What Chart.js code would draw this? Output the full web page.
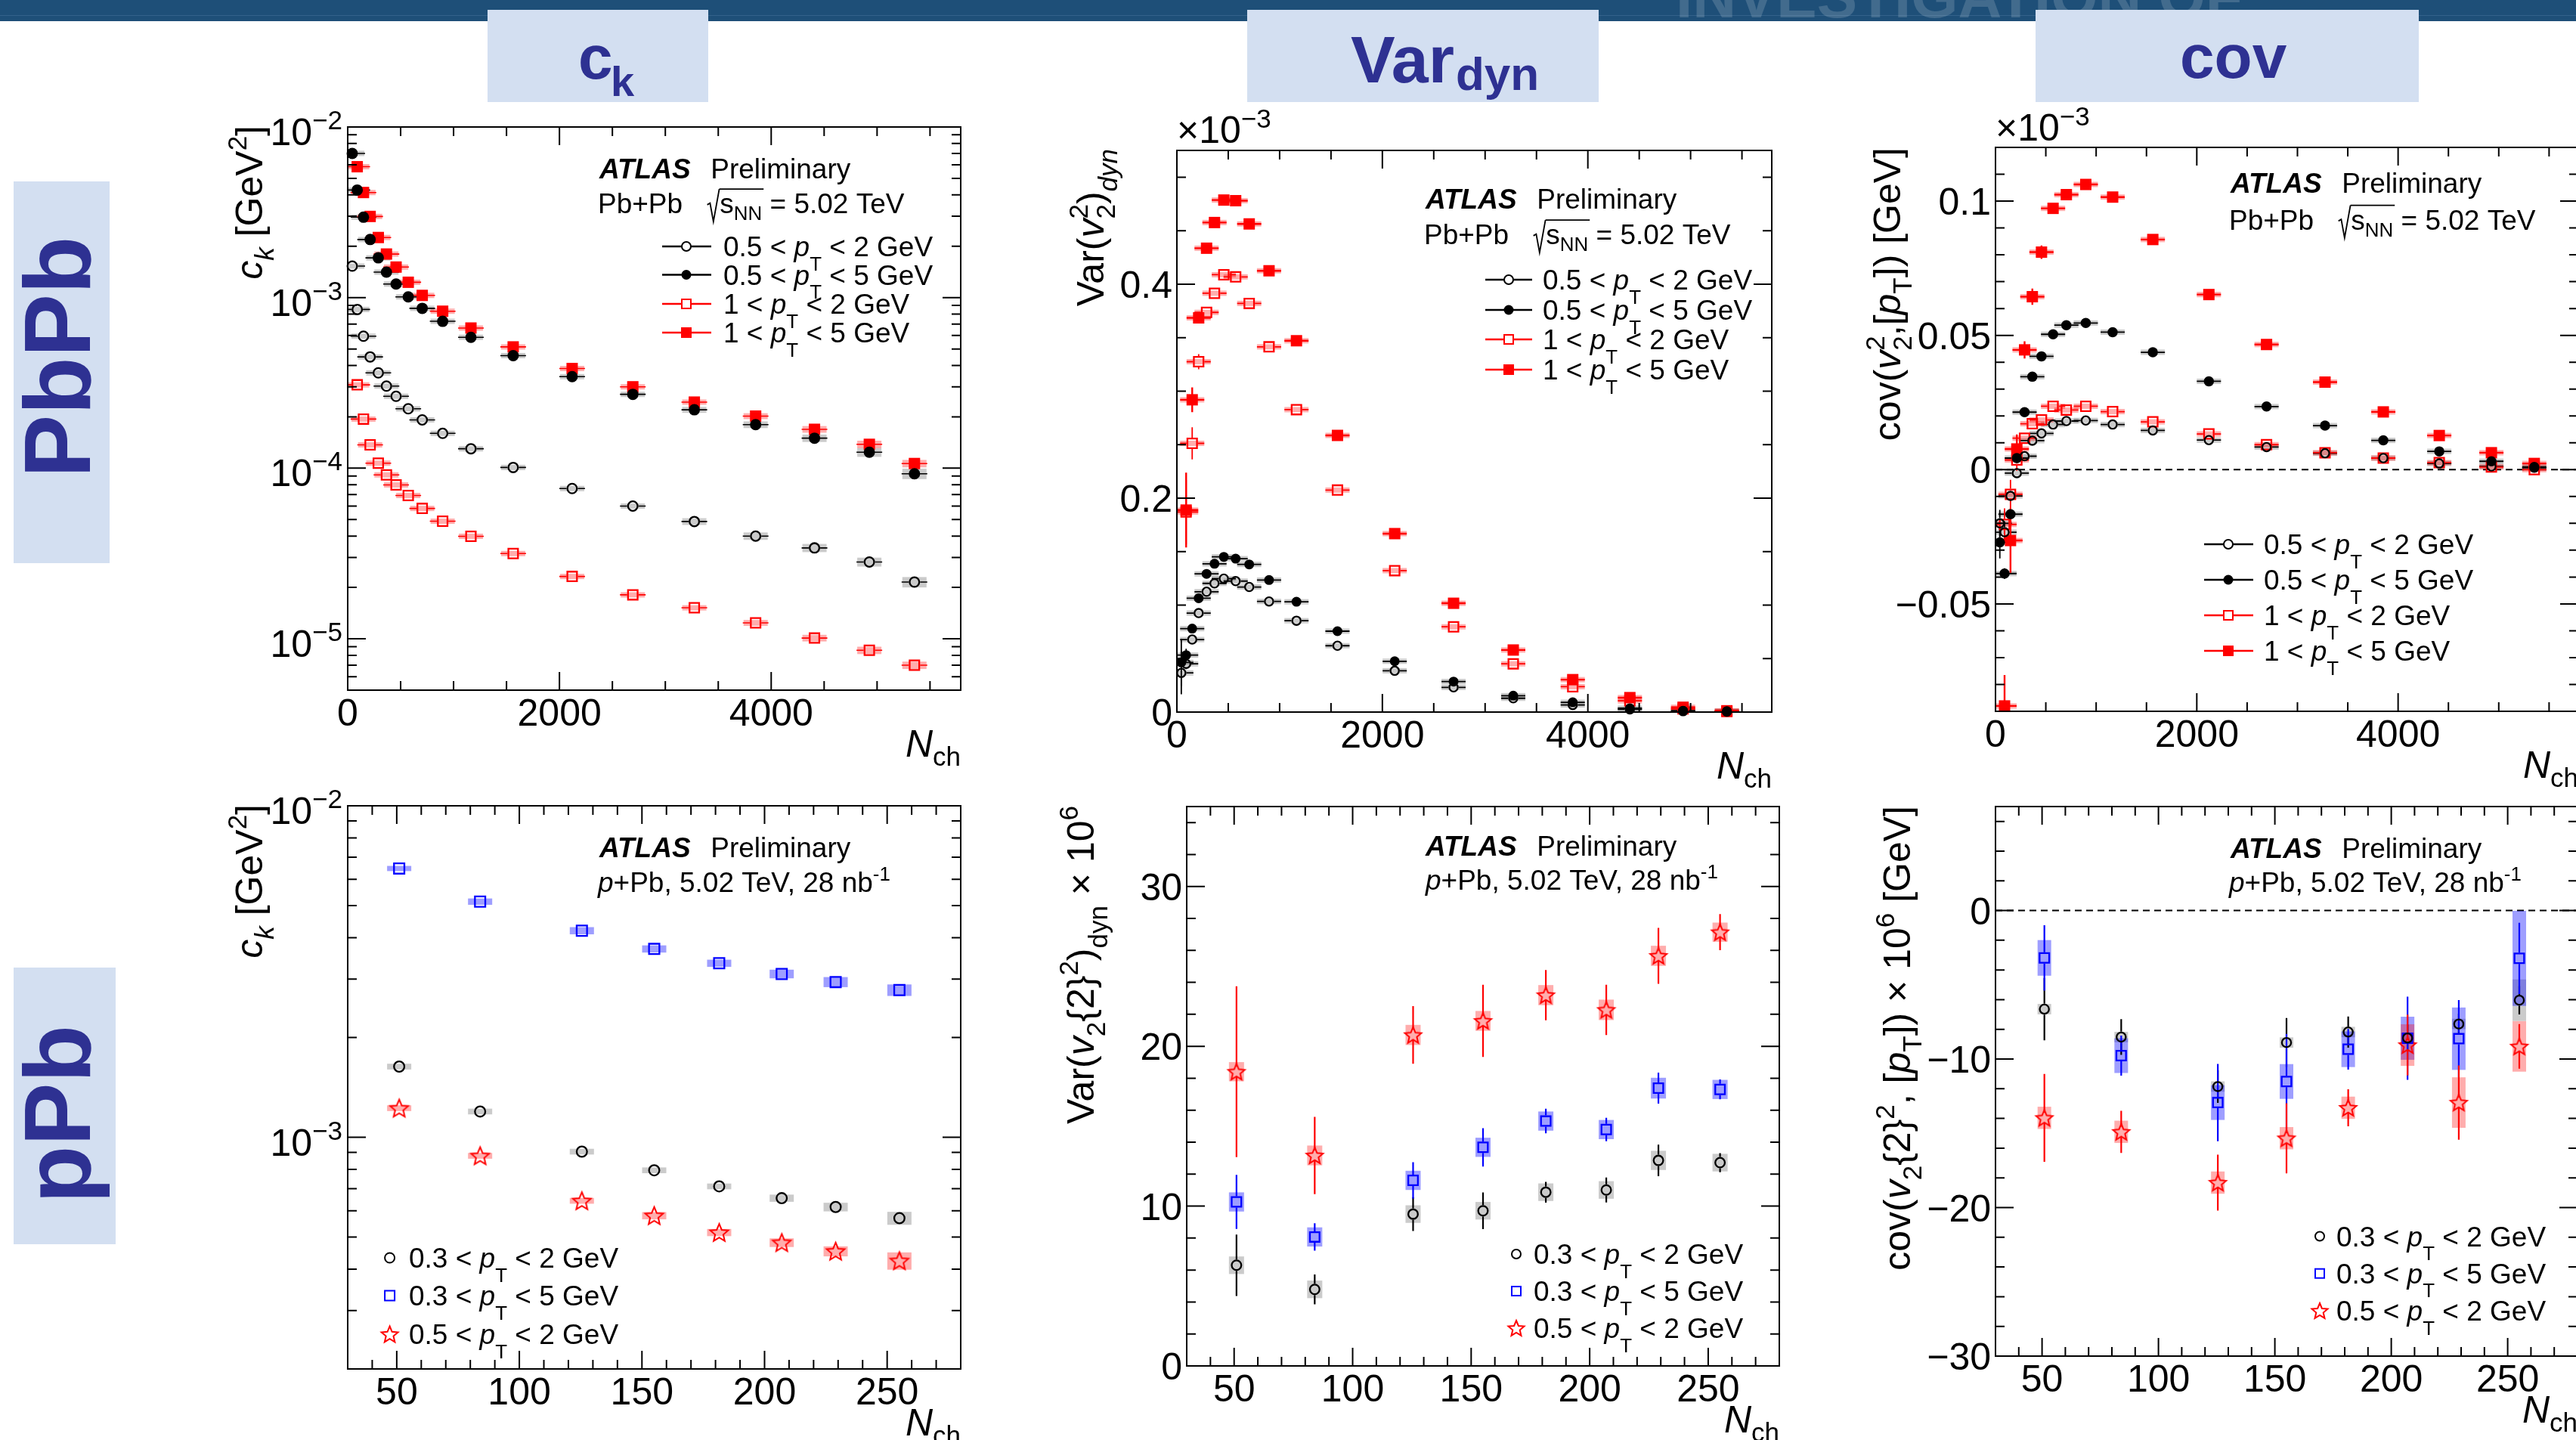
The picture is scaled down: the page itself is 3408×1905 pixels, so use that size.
<!DOCTYPE html>
<html lang="en"><head><meta charset="utf-8"><title>ATLAS Preliminary: c_k, Var_dyn, cov</title>
<script src="https://cdn.jsdelivr.net/npm/chart.js@4.4.1/dist/chart.umd.min.js"></script>
<style>
html,body{margin:0;padding:0;background:#fff;width:3408px;height:1905px;overflow:hidden;position:relative;}
#band{position:absolute;left:0;top:0;width:3408px;height:28px;background:#1e4f78;overflow:hidden;}
#bandline{position:absolute;left:0;top:20px;width:3408px;height:1px;background:#33628b;}
#bandtxt{position:absolute;left:2217px;top:-44px;font-family:"Liberation Sans",Arial,sans-serif;font-weight:bold;font-size:80px;line-height:1;color:rgba(255,255,255,0.16);white-space:nowrap;}
.hbox{position:absolute;top:13px;height:122px;background:#d3dff1;}
.hs{position:absolute;font-family:"Liberation Sans",Arial,sans-serif;font-weight:bold;color:#2e3192;line-height:1;white-space:nowrap;}
.side{position:absolute;background:#d3dff1;}
.rot{position:absolute;transform-origin:0 0;transform:rotate(-90deg);font-family:"Liberation Sans",Arial,sans-serif;font-weight:bold;color:#2e3192;font-size:125px;line-height:1;white-space:nowrap;}
canvas{position:absolute;}
</style></head>
<body>
<div id="band"><div id="bandline"></div><div id="bandtxt">INVESTIGATION OF</div></div>
<div class="hbox" style="left:645px;width:292px"></div>
<div class="hbox" style="left:1650px;width:465px"></div>
<div class="hbox" style="left:2693px;width:507px"></div>
<span class="hs" style="left:765px;top:34.6px;font-size:82px">c</span>
<span class="hs" style="left:808px;top:79.6px;font-size:56px">k</span>
<span class="hs" style="left:1787px;top:34.5px;font-size:88px">Var</span>
<span class="hs" style="left:1926px;top:66.5px;font-size:62px">dyn</span>
<span class="hs" style="left:2884px;top:33.6px;font-size:82px">cov</span>
<div class="side" style="left:18px;top:240px;width:127px;height:505px"></div>
<div class="rot" style="left:13px;top:632px">PbPb</div>
<div class="side" style="left:18px;top:1280px;width:135px;height:366px"></div>
<div class="rot" style="left:13px;top:1592px">pPb</div>
<script>
// ======================= DATA =======================
// Pb+Pb multiplicity bins (mean N_ch); the 1<pT series start at the second bin
const nchPbPb = [43, 90, 149, 212, 289, 366, 457, 572, 704, 897, 1164, 1563, 2120, 2693, 3274, 3853, 4409, 4927, 5353];
const nchPPb  = [51, 84, 125.5, 155, 181.5, 207, 229, 255];

const xTickPbPb = [0, 2000, 4000];
const xTickPPb  = [50, 100, 150, 200, 250];
const yExpCkPbPb = [-2, -3, -4, -5];
const yExpCkPPb  = [-2, -3];
const yTickVarPbPb = [0, 0.2, 0.4];
const yTickCovPbPb = [-0.05, 0, 0.05, 0.1];
const yTickVarPPb  = [0, 10, 20, 30];
const yTickCovPPb  = [-30, -20, -10, 0];

const legPbPb = [['0.5 < ', ' < 2 GeV'], ['0.5 < ', ' < 5 GeV'], ['1 < ', ' < 2 GeV'], ['1 < ', ' < 5 GeV']];
const legPPb  = [['0.3 < ', ' < 2 GeV'], ['0.3 < ', ' < 5 GeV'], ['0.5 < ', ' < 2 GeV']];

// c_k, Pb+Pb [GeV^2]
const ckPbPb_05_2 = [1.53e-3, 8.52e-4, 5.94e-4, 4.49e-4, 3.62e-4, 3.03e-4, 2.64e-4, 2.23e-4, 1.92e-4, 1.60e-4, 1.30e-4, 1.01e-4, 7.6e-5, 6.0e-5, 4.87e-5, 4.0e-5, 3.41e-5, 2.82e-5, 2.15e-5];
const ckPbPb_05_5 = [7.0e-3, 4.27e-3, 2.96e-3, 2.19e-3, 1.71e-3, 1.41e-3, 1.20e-3, 1.01e-3, 8.65e-4, 7.26e-4, 5.85e-4, 4.57e-4, 3.44e-4, 2.71e-4, 2.20e-4, 1.80e-4, 1.50e-4, 1.24e-4, 9.28e-5];
const ckPbPb_1_2  = [3.08e-4, 1.94e-4, 1.37e-4, 1.07e-4, 9.14e-5, 7.98e-5, 6.92e-5, 5.81e-5, 4.89e-5, 3.99e-5, 3.16e-5, 2.32e-5, 1.81e-5, 1.52e-5, 1.24e-5, 1.01e-5, 8.56e-6, 7.0e-6];
const ckPbPb_1_5  = [5.85e-3, 4.13e-3, 2.99e-3, 2.25e-3, 1.80e-3, 1.51e-3, 1.23e-3, 1.03e-3, 8.32e-4, 6.63e-4, 5.14e-4, 3.84e-4, 3.0e-4, 2.44e-4, 2.02e-4, 1.69e-4, 1.38e-4, 1.065e-4];
// relative systematic uncertainties
const ckPbPbSys_05_2 = [0.02, 0.02, 0.02, 0.02, 0.02, 0.02, 0.02, 0.02, 0.02, 0.02, 0.02, 0.025, 0.03, 0.035, 0.045, 0.05, 0.055, 0.06, 0.07];
const ckPbPbSys_05_5 = [0.02, 0.02, 0.02, 0.02, 0.02, 0.02, 0.02, 0.02, 0.02, 0.02, 0.02, 0.025, 0.03, 0.035, 0.04, 0.045, 0.05, 0.06, 0.07];
const ckPbPbSys_1_2  = [0.02, 0.02, 0.02, 0.02, 0.02, 0.02, 0.02, 0.02, 0.02, 0.02, 0.025, 0.03, 0.03, 0.035, 0.04, 0.045, 0.05, 0.05];
const ckPbPbSys_1_5  = [0.02, 0.02, 0.02, 0.02, 0.02, 0.02, 0.02, 0.02, 0.02, 0.02, 0.025, 0.03, 0.03, 0.035, 0.04, 0.045, 0.05, 0.05];

// Var(v2^2)_dyn, Pb+Pb (x 1e-3)
const vdPbPb_05_2 = [0.0366, 0.0451, 0.0678, 0.0925, 0.1125, 0.1203, 0.1247, 0.1224, 0.1169, 0.1034, 0.0854, 0.062, 0.0386, 0.0231, 0.0129, 0.0066, 0.0025, 0.0008, 0.0004];
const vdPbPb_05_5 = [0.0464, 0.0532, 0.078, 0.1064, 0.1292, 0.1386, 0.1451, 0.1434, 0.138, 0.1234, 0.1031, 0.0756, 0.0475, 0.0285, 0.0153, 0.0091, 0.0036, 0.0013, 0.0008];
const vdPbPb_1_2  = [0.187, 0.2512, 0.3275, 0.3736, 0.3915, 0.4088, 0.4068, 0.382, 0.3414, 0.2827, 0.2075, 0.1322, 0.0797, 0.0451, 0.0237, 0.0105, 0.003, 0.0006];
const vdPbPb_1_5  = [0.1888, 0.2919, 0.3685, 0.4336, 0.4576, 0.4786, 0.478, 0.4563, 0.4125, 0.3471, 0.2586, 0.1668, 0.1017, 0.058, 0.0303, 0.0135, 0.0045, 0.0012];
const vdPbPbErr_05_2 = [0.02, 0.005, 0.003, 0.002, 0.002, 0.001, 0.001, 0.001, 0.001, 0.001, 0.001, 0.001, 0.001, 0.001, 0.001, 0.001, 0.001, 0.001, 0.001];
const vdPbPbErr_05_5 = [0.022, 0.006, 0.003, 0.002, 0.002, 0.001, 0.001, 0.001, 0.001, 0.001, 0.001, 0.001, 0.001, 0.001, 0.001, 0.001, 0.001, 0.001, 0.001];
const vdPbPbErr_1_2  = [0.03, 0.015, 0.007, 0.004, 0.003, 0.003, 0.003, 0.002, 0.002, 0.002, 0.002, 0.002, 0.002, 0.001, 0.001, 0.001, 0.001, 0.001];
const vdPbPbErr_1_5  = [0.035, 0.0115, 0.005, 0.004, 0.003, 0.003, 0.003, 0.002, 0.002, 0.002, 0.002, 0.002, 0.002, 0.001, 0.001, 0.001, 0.001, 0.001];

// cov(v2^2,[pT]), Pb+Pb (x 1e-3 GeV)
const cvPbPb_05_2 = [-0.02, -0.0233, -0.0098, -0.0013, 0.005, 0.0108, 0.0135, 0.0168, 0.0181, 0.0183, 0.0168, 0.0146, 0.011, 0.0084, 0.0061, 0.0043, 0.0023, 0.0012, 0.0007];
const cvPbPb_05_5 = [-0.0271, -0.0387, -0.0166, 0.0043, 0.0214, 0.0346, 0.0422, 0.0504, 0.0538, 0.0546, 0.0512, 0.0437, 0.0329, 0.0235, 0.0164, 0.0109, 0.0068, 0.0031, 0.001];
const cvPbPb_1_2  = [-0.0204, -0.0092, 0.0036, 0.0117, 0.0171, 0.0185, 0.0236, 0.0222, 0.0236, 0.0216, 0.0178, 0.0133, 0.0093, 0.0063, 0.0043, 0.0026, 0.001, 0.0];
const cvPbPb_1_5  = [-0.088, -0.0264, 0.0077, 0.0446, 0.0644, 0.081, 0.0973, 0.1024, 0.1062, 0.1015, 0.0857, 0.0652, 0.0466, 0.0326, 0.0215, 0.0127, 0.0063, 0.0023];
const cvPbPbErr_05_2 = [0.005, 0.004, 0.002, 0.0015, 0.001, 0.001, 0.001, 0.0005, 0.0005, 0.0005, 0.0005, 0.0005, 0.0005, 0.0005, 0.0005, 0.0005, 0.0005, 0.0005, 0.0005];
const cvPbPbErr_05_5 = [0.006, 0.002, 0.002, 0.0015, 0.001, 0.001, 0.001, 0.0005, 0.0005, 0.0005, 0.0005, 0.0005, 0.0005, 0.0005, 0.0005, 0.0005, 0.0005, 0.0005, 0.0005];
const cvPbPbErr_1_2  = [0.006, 0.0054, 0.004, 0.002, 0.0015, 0.001, 0.001, 0.001, 0.001, 0.001, 0.001, 0.001, 0.001, 0.001, 0.001, 0.001, 0.001, 0.001];
const cvPbPbErr_1_5  = [0.0115, 0.012, 0.0054, 0.0032, 0.003, 0.0025, 0.0015, 0.001, 0.001, 0.001, 0.001, 0.001, 0.001, 0.001, 0.001, 0.001, 0.001, 0.001];

// c_k, p+Pb [GeV^2]
const ckPPb_03_2 = [1.634e-3, 1.196e-3, 9.05e-4, 7.95e-4, 7.11e-4, 6.55e-4, 6.16e-4, 5.70e-4];
const ckPPb_03_5 = [6.47e-3, 5.14e-3, 4.20e-3, 3.70e-3, 3.35e-3, 3.11e-3, 2.94e-3, 2.78e-3];
const ckPPb_05_2 = [1.224e-3, 8.79e-4, 6.43e-4, 5.80e-4, 5.16e-4, 4.81e-4, 4.53e-4, 4.24e-4];
const ckPPbSys_03_2 = [0.02, 0.02, 0.02, 0.02, 0.02, 0.025, 0.03, 0.045];
const ckPPbSys_03_5 = [0.018, 0.022, 0.025, 0.025, 0.025, 0.03, 0.035, 0.04];
const ckPPbSys_05_2 = [0.02, 0.02, 0.02, 0.025, 0.025, 0.03, 0.035, 0.06];

// Var(v2{2}^2)_dyn x 1e6, p+Pb
const vdPPb_03_2 = [6.30, 4.79, 9.50, 9.71, 10.87, 11.01, 12.86, 12.72];
const vdPPb_03_5 = [10.26, 8.07, 11.61, 13.68, 15.32, 14.79, 17.38, 17.30];
const vdPPb_05_2 = [18.41, 13.17, 20.71, 21.59, 23.20, 22.28, 25.66, 27.14];
const vdPPbErr_03_2 = [1.92, 0.93, 1.06, 1.15, 0.65, 0.78, 0.99, 0.6];
const vdPPbErr_03_5 = [1.69, 0.86, 1.14, 1.2, 0.77, 0.73, 0.97, 0.62];
const vdPPbErr_05_2 = [5.35, 2.42, 1.8, 2.26, 1.57, 1.57, 1.75, 1.13];
const vdPPbSys_03_2 = [0.55, 0.55, 0.55, 0.55, 0.55, 0.55, 0.6, 0.55];
const vdPPbSys_03_5 = [0.6, 0.6, 0.6, 0.6, 0.6, 0.6, 0.65, 0.6];
const vdPPbSys_05_2 = [0.6, 0.62, 0.63, 0.62, 0.63, 0.64, 0.63, 0.6];

// cov(v2{2}^2,[pT]) x 1e6 [GeV], p+Pb
const cvPPb_03_2 = [-6.64, -8.52, -11.85, -8.89, -8.18, -8.58, -7.64, -6.04];
const cvPPb_03_5 = [-3.19, -9.77, -12.93, -11.51, -9.34, -8.6, -8.63, -3.22];
const cvPPb_05_2 = [-13.96, -14.9, -18.32, -15.33, -13.28, -9.06, -12.93, -9.15];
const cvPPbErr_03_2 = [2.1, 1.2, 1.1, 1.65, 1.05, 0.9, 0.7, 0.95];
const cvPPbErr_03_5 = [2.2, 1.35, 2.6, 3.2, 1.37, 2.8, 2.6, 2.4];
const cvPPbErr_05_2 = [2.96, 1.42, 1.88, 2.36, 1.25, 2.05, 2.5, 1.5];
const cvPPbSys_03_2 = [0.35, 0.35, 0.35, 0.35, 0.35, 0.35, 0.35, 1.4];
const cvPPbSys_03_5 = [1.2, 1.17, 1.17, 1.17, 1.2, 1.45, 2.1, 3.2];
const cvPPbSys_05_2 = [0.75, 0.75, 0.75, 0.75, 0.75, 1.4, 1.7, 1.7];

// ======================= DRAWING HELPERS =======================
const FONT = '"Liberation Sans", Arial, Helvetica, sans-serif';
const GRAY = 'rgba(140,140,140,0.45)', PINK = 'rgba(255,0,0,0.32)', LBLUE = 'rgba(0,0,255,0.38)';
const RED = '#ff0000', BLUE = '#0000ff', BLK = '#000000';
const MAJ = 24, MIN = 12, MLW = 2.3;

const T_ = (t, o) => Object.assign({t}, o || {});
const I_ = (t, o) => Object.assign({t, i: 1}, o || {});
const SB = (t, o) => Object.assign({t, sub: 1}, o || {});
const SP = (t, o) => Object.assign({t, sup: 1}, o || {});
const pTparts = () => [I_('p'), SB('T', {dy: 0.5})];
const legParts = (a) => [T_(a[0]), ...pTparts(), T_(a[1])];

function layoutRich(ctx, parts, size) {
  let x = 0, prev = null; const items = [];
  for (const p of parts) {
    if (p.dx !== undefined) { x += p.dx * size; prev = null; continue; }
    if (p.rad) { items.push({rad: true, x, size}); x += 0.47 * size; prev = null; continue; }
    const sc = p.sc || ((p.sub || p.sup) ? 0.7 : 1);
    const fs = size * sc;
    const font = (p.i ? 'italic ' : '') + (p.b ? 'bold ' : '') + fs.toFixed(2) + 'px ' + FONT;
    ctx.font = font;
    const w = ctx.measureText(p.t).width;
    const dy = (p.dy !== undefined ? p.dy : (p.sub ? 0.3 : (p.sup ? -0.42 : 0))) * size;
    let sx = x;
    if (p.stack && prev) { sx = prev.x; x = prev.x + Math.max(prev.w, w); } else { x += w; }
    const it = {t: p.t, font, x: sx, dy, w, ol: p.ol};
    items.push(it); prev = it;
  }
  return {items, width: x};
}
function drawRich(ctx, x, y, parts, size, align, color) {
  const L = layoutRich(ctx, parts, size);
  const ox = align === 'right' ? x - L.width : (align === 'center' ? x - L.width / 2 : x);
  ctx.save();
  ctx.fillStyle = color || '#000'; ctx.strokeStyle = color || '#000';
  ctx.textBaseline = 'alphabetic'; ctx.textAlign = 'left';
  let olS = null, olE = null, olY = 0;
  for (const it of L.items) {
    if (it.rad) {
      const s = it.size, x0 = ox + it.x;
      ctx.lineWidth = Math.max(1.3, s * 0.05);
      ctx.beginPath();
      ctx.moveTo(x0 + 0.02 * s, y - 0.30 * s);
      ctx.lineTo(x0 + 0.12 * s, y - 0.36 * s);
      ctx.lineTo(x0 + 0.24 * s, y + 0.30 * s);
      ctx.lineTo(x0 + 0.45 * s, y - 0.86 * s);
      ctx.stroke();
      olS = x0 + 0.45 * s; olY = y - 0.86 * s;
      continue;
    }
    ctx.font = it.font;
    ctx.fillText(it.t, ox + it.x, y + it.dy);
    if (it.ol) olE = ox + it.x + it.w;
  }
  if (olS !== null && olE !== null) { ctx.beginPath(); ctx.moveTo(olS, olY); ctx.lineTo(olE + 2, olY); ctx.stroke(); }
  ctx.restore();
}
function starPath(g, cx, cy, R, r) {
  g.beginPath();
  for (let k = 0; k < 10; k++) {
    const ang = -Math.PI / 2 + k * Math.PI / 5, rr = (k % 2) ? r : R;
    const px = cx + rr * Math.cos(ang), py = cy + rr * Math.sin(ang);
    if (k) g.lineTo(px, py); else g.moveTo(px, py);
  }
  g.closePath();
}
function starImg(R, col) {
  const c = document.createElement('canvas'); const S = Math.ceil(2 * R + 6);
  c.width = S; c.height = S;
  const g = c.getContext('2d'); g.strokeStyle = col; g.lineWidth = 2; g.lineJoin = 'miter';
  starPath(g, S / 2, S / 2 + 1, R, R * 0.45); g.stroke();
  return c;
}
function drawMarker(ctx, m, x, y, s, col) {
  ctx.save(); ctx.fillStyle = col; ctx.strokeStyle = col; ctx.lineWidth = 2;
  if (m === 'cf') { ctx.beginPath(); ctx.arc(x, y, s / 2, 0, 2 * Math.PI); ctx.fill(); }
  else if (m === 'co') { ctx.beginPath(); ctx.arc(x, y, s / 2 - 1, 0, 2 * Math.PI); ctx.fillStyle = '#fff'; ctx.fill(); ctx.stroke(); }
  else if (m === 'sf') { ctx.fillRect(x - s / 2, y - s / 2, s, s); }
  else if (m === 'so') { ctx.fillStyle = '#fff'; ctx.fillRect(x - s / 2, y - s / 2, s, s); ctx.strokeRect(x - s / 2 + 1, y - s / 2 + 1, s - 2, s - 2); }
  else if (m === 'st') { starPath(ctx, x, y + 1, s / 2, s / 2 * 0.45); ctx.fillStyle = '#fff'; ctx.fill(); ctx.stroke(); }
  ctx.restore();
}
function markerOpts(kind, size, col) {
  const lw = MLW, none = 'rgba(0,0,0,0)';
  switch (kind) {
    case 'cf': return {pointStyle: 'circle', pointRadius: size / 2, pointBackgroundColor: col, pointBorderColor: col, pointBorderWidth: 0};
    case 'co': return {pointStyle: 'circle', pointRadius: (size - lw) / 2, pointBackgroundColor: none, pointBorderColor: col, pointBorderWidth: lw};
    case 'sf': return {pointStyle: 'rect', pointRadius: size / Math.SQRT2, pointBackgroundColor: col, pointBorderColor: col, pointBorderWidth: 0};
    case 'so': return {pointStyle: 'rect', pointRadius: (size - lw) / Math.SQRT2, pointBackgroundColor: none, pointBorderColor: col, pointBorderWidth: lw};
    case 'st': return {pointStyle: starImg(size / 2, col), pointRadius: size / 2, pointBackgroundColor: none, pointBorderColor: col, pointBorderWidth: 0};
  }
}
function series(xs, ys, kind, size, col, eb) {
  const gap = (kind === 'co' || kind === 'so') ? size / 2 : (kind === 'st' ? size * 0.3 : 0);
  return Object.assign({data: ys.map((v, i) => ({x: xs[i], y: v})), showLine: false, clip: false,
    eb: Object.assign({col, gap}, eb)}, markerOpts(kind, size, col));
}
function ticksList(min, max, step) {
  const out = []; const k0 = Math.ceil(min / step - 1e-6), k1 = Math.floor(max / step + 1e-6);
  for (let k = k0; k <= k1; k++) out.push(+(k * step).toFixed(10));
  return out;
}
const isMult = (v, m) => { const q = v / m; return Math.abs(q - Math.round(q)) < 1e-6; };
const fmtNum = (v) => String(v).replace('-', '\u2212');

function makePlugin(cfg) {
  return {
    id: 'atlas_' + cfg.id,
    beforeDatasetsDraw(chart) {
      const ctx = chart.ctx, a = chart.chartArea, xs = chart.scales.x, ys = chart.scales.y;
      ctx.save();
      if (cfg.zero) {
        const y0 = ys.getPixelForValue(0);
        ctx.setLineDash([9, 6]); ctx.lineWidth = 2; ctx.strokeStyle = '#000';
        ctx.beginPath(); ctx.moveTo(a.left, y0); ctx.lineTo(a.right, y0); ctx.stroke(); ctx.setLineDash([]);
      }
      ctx.beginPath(); ctx.rect(a.left, a.top, a.right - a.left, a.bottom - a.top); ctx.clip();
      for (const ds of chart.data.datasets) {
        const e = ds.eb; if (!e || !(e.sys || e.box)) continue;
        ctx.fillStyle = e.sysCol;
        ds.data.forEach((p, i) => {
          const px = xs.getPixelForValue(p.x), s = e.sys ? e.sys[i] : 0;
          let y1, y2;
          if (e.rel) { y1 = ys.getPixelForValue(p.y * (1 + s)); y2 = ys.getPixelForValue(p.y * (1 - s)); }
          else { y1 = ys.getPixelForValue(p.y + s); y2 = ys.getPixelForValue(p.y - s); }
          let top = Math.min(y1, y2), h = Math.abs(y1 - y2);
          const mh = e.minH || 0;
          if (h < mh) { top = (y1 + y2) / 2 - mh / 2; h = mh; }
          ctx.fillRect(px - e.hw, top, 2 * e.hw, h);
        });
      }
      for (const ds of chart.data.datasets) {
        const e = ds.eb; if (!e) continue;
        ctx.strokeStyle = e.col; ctx.lineWidth = e.lw || 2;
        ctx.beginPath();
        ds.data.forEach((p, i) => {
          const px = xs.getPixelForValue(p.x), py = ys.getPixelForValue(p.y), g = e.gap;
          if (e.xl && e.xl > g) {
            ctx.moveTo(px - e.xl, py); ctx.lineTo(px - g, py);
            ctx.moveTo(px + g, py); ctx.lineTo(px + e.xl, py);
          }
          if (e.err && e.err[i]) {
            const yt = ys.getPixelForValue(p.y + e.err[i]), yb = ys.getPixelForValue(p.y - e.err[i]);
            if (py - g > yt) { ctx.moveTo(px, yt); ctx.lineTo(px, py - g); }
            if (yb > py + g) { ctx.moveTo(px, py + g); ctx.lineTo(px, yb); }
          }
        });
        ctx.stroke();
      }
      ctx.restore();
    },
    afterDraw(chart) {
      const ctx = chart.ctx, a = chart.chartArea, xs = chart.scales.x, ys = chart.scales.y;
      const ox = cfg.off.x, oy = cfg.off.y;
      ctx.save();
      ctx.strokeStyle = '#000'; ctx.lineWidth = 2;
      ctx.strokeRect(a.left, a.top, a.right - a.left, a.bottom - a.top);
      ctx.beginPath();
      for (const v of ticksList(cfg.x.min, cfg.x.max, cfg.x.minor)) {
        const px = xs.getPixelForValue(v), L = isMult(v, cfg.x.major) ? MAJ : MIN;
        ctx.moveTo(px, a.bottom); ctx.lineTo(px, a.bottom - L);
        ctx.moveTo(px, a.top); ctx.lineTo(px, a.top + L);
      }
      const yt = [];
      if (cfg.y.log) {
        for (let d = Math.floor(Math.log10(cfg.y.min)); d <= Math.ceil(Math.log10(cfg.y.max)); d++)
          for (let m = 1; m <= 9; m++) { const v = m * Math.pow(10, d); if (v >= cfg.y.min * 0.9999 && v <= cfg.y.max * 1.0001) yt.push([v, m === 1]); }
      } else {
        for (const v of ticksList(cfg.y.min, cfg.y.max, cfg.y.minor)) yt.push([v, isMult(v, cfg.y.major)]);
      }
      for (const [v, maj] of yt) {
        const py = ys.getPixelForValue(v), L = maj ? MAJ : MIN;
        ctx.moveTo(a.left, py); ctx.lineTo(a.left + L, py);
        ctx.moveTo(a.right, py); ctx.lineTo(a.right - L, py);
      }
      ctx.stroke();
      for (const v of cfg.x.labels) drawRich(ctx, xs.getPixelForValue(v), a.bottom + 47, [T_(fmtNum(v))], 50, 'center');
      if (cfg.y.log) {
        for (const e of cfg.y.labels) drawRich(ctx, a.left - 7, ys.getPixelForValue(Math.pow(10, e)) + 24, [T_('10'), SP('\u2212' + Math.abs(e), {dy: -0.42})], 50, 'right');
      } else {
        for (const v of cfg.y.labels) drawRich(ctx, a.left - 6, ys.getPixelForValue(v) + 18, [T_(fmtNum(v))], 50, 'right');
      }
      drawRich(ctx, a.right, a.bottom + 88, [I_('N'), SB('ch', {dy: 0.24})], 50, 'right');
      ctx.save();
      ctx.translate(cfg.ytitle.x - ox, cfg.ytitle.y - oy); ctx.rotate(-Math.PI / 2);
      drawRich(ctx, 0, 0, cfg.ytitle.parts, 50, 'right');
      ctx.restore();
      if (cfg.exp) drawRich(ctx, cfg.exp.x - ox, cfg.exp.y - oy, cfg.exp.parts, 50, 'left');
      for (const t of cfg.texts) drawRich(ctx, t.x - ox, t.y - oy, t.parts, 37, 'left');
      const lg = cfg.legend;
      lg.rows.forEach(r => {
        const y = r.y - oy;
        if (lg.line) {
          ctx.strokeStyle = r.col; ctx.lineWidth = 2.5;
          ctx.beginPath(); ctx.moveTo(lg.line[0] - ox, y); ctx.lineTo(lg.line[1] - ox, y); ctx.stroke();
        }
        drawMarker(ctx, r.m, lg.mx - ox, y, r.s, r.col);
        drawRich(ctx, lg.tx - ox, y + 13, r.parts, 37, 'left');
      });
      ctx.restore();
    }
  };
}

const PADL = 200, PADR = 40, PADT = 90, PADB = 115;
function panel(cfg) {
  const f = cfg.frame;
  const ox = f.L - PADL, oy = f.T - PADT;
  const W = f.R - f.L + PADL + PADR, H = f.B - f.T + PADT + PADB;
  cfg.off = {x: ox, y: oy};
  const cv = document.createElement('canvas');
  cv.width = W; cv.height = H;
  cv.style.left = ox + 'px'; cv.style.top = oy + 'px';
  cv.style.width = W + 'px'; cv.style.height = H + 'px';
  document.body.appendChild(cv);
  new Chart(cv, {
    type: 'scatter',
    data: {datasets: cfg.datasets},
    options: {
      responsive: false, maintainAspectRatio: false, animation: false, events: [],
      layout: {padding: {left: PADL, right: PADR, top: PADT, bottom: PADB}, autoPadding: false},
      scales: {
        x: {type: 'linear', min: cfg.x.min, max: cfg.x.max, display: false},
        y: {type: cfg.y.log ? 'logarithmic' : 'linear', min: cfg.y.min, max: cfg.y.max, display: false}
      },
      plugins: {legend: {display: false}, tooltip: {enabled: false}, title: {display: false}}
    },
    plugins: [makePlugin(cfg)]
  });
}

const line1 = () => [T_('ATLAS', {b: 1, i: 1}), {dx: 0.72}, T_('Preliminary')];
const linePb = () => [T_('Pb+Pb'), {dx: 0.86}, {rad: 1}, T_('s', {ol: 1}), SB('NN', {ol: 1, dy: 0.25}), T_(' = 5.02 TeV')];
const lineP = () => [I_('p'), T_('+Pb, 5.02 TeV, 28 nb'), SP('-1', {dy: -0.4})];
const xPb = {min: 0, max: 5790, major: 2000, minor: 500, labels: xTickPbPb};
const xP = {min: 30, max: 280, major: 50, minor: 10, labels: xTickPPb};
const nchPbPbR = nchPbPb.slice(1);

// ---- Top-left: c_k Pb+Pb ----
panel({
  id: 'tl', frame: {L: 460, R: 1271, T: 168, B: 913},
  x: xPb, y: {log: true, min: 5e-6, max: 1e-2, labels: yExpCkPbPb},
  datasets: [
    series(nchPbPb, ckPbPb_05_2, 'co', 15, BLK, {sys: ckPbPbSys_05_2, rel: true, sysCol: GRAY, hw: 16, minH: 7, xl: 17, lw: 1.6}),
    series(nchPbPb, ckPbPb_05_5, 'cf', 15, BLK, {sys: ckPbPbSys_05_5, rel: true, sysCol: GRAY, hw: 16, minH: 7, xl: 17, lw: 1.6}),
    series(nchPbPbR, ckPbPb_1_2, 'so', 15, RED, {sys: ckPbPbSys_1_2, rel: true, sysCol: PINK, hw: 16, minH: 7, xl: 17, lw: 1.6}),
    series(nchPbPbR, ckPbPb_1_5, 'sf', 15, RED, {sys: ckPbPbSys_1_5, rel: true, sysCol: PINK, hw: 16, minH: 7, xl: 17, lw: 1.6})
  ],
  ytitle: {x: 347, y: 166, parts: [I_('c'), SB('k', {i: 1}), T_(' [GeV'), SP('2'), T_(']')]},
  texts: [{x: 793, y: 236, parts: line1()}, {x: 791, y: 282, parts: linePb()}],
  legend: {line: [876, 941], mx: 908, tx: 957, rows: [
    {y: 326, m: 'co', s: 14, col: BLK, parts: legParts(legPbPb[0])},
    {y: 363.5, m: 'cf', s: 13, col: BLK, parts: legParts(legPbPb[1])},
    {y: 402, m: 'so', s: 14, col: RED, parts: legParts(legPbPb[2])},
    {y: 440, m: 'sf', s: 14, col: RED, parts: legParts(legPbPb[3])}]}
});

// ---- Top-middle: Var_dyn Pb+Pb ----
panel({
  id: 'tm', frame: {L: 1557, R: 2344, T: 199, B: 942},
  x: xPb, y: {min: 0, max: 0.525, major: 0.2, minor: 0.05, labels: yTickVarPbPb},
  datasets: [
    series(nchPbPb, vdPbPb_05_2, 'co', 13.5, BLK, {box: true, sysCol: GRAY, hw: 16, minH: 7, xl: 16, lw: 1.8, err: vdPbPbErr_05_2}),
    series(nchPbPb, vdPbPb_05_5, 'cf', 13, BLK, {box: true, sysCol: GRAY, hw: 16, minH: 7, xl: 16, lw: 1.8, err: vdPbPbErr_05_5}),
    series(nchPbPbR, vdPbPb_1_2, 'so', 15, RED, {box: true, sysCol: PINK, hw: 16, minH: 7, xl: 16, lw: 1.8, err: vdPbPbErr_1_2}),
    series(nchPbPbR, vdPbPb_1_5, 'sf', 15, RED, {box: true, sysCol: PINK, hw: 16, minH: 7, xl: 16, lw: 2.4, err: vdPbPbErr_1_5})
  ],
  ytitle: {x: 1460, y: 197, parts: [T_('Var('), I_('v'), SB('2'), SP('2', {stack: 1}), T_(')'), SB('dyn', {i: 1, dy: 0.35})]},
  exp: {x: 1557, y: 189, parts: [T_('\u00d710'), SP('\u22123', {dy: -0.4})]},
  texts: [{x: 1886, y: 276, parts: line1()}, {x: 1884, y: 323, parts: linePb()}],
  legend: {line: [1965, 2027], mx: 1996, tx: 2041, rows: [
    {y: 370, m: 'co', s: 14, col: BLK, parts: legParts(legPbPb[0])},
    {y: 410, m: 'cf', s: 13, col: BLK, parts: legParts(legPbPb[1])},
    {y: 449, m: 'so', s: 14, col: RED, parts: legParts(legPbPb[2])},
    {y: 489, m: 'sf', s: 14, col: RED, parts: legParts(legPbPb[3])}]}
});

// ---- Top-right: cov Pb+Pb ----
panel({
  id: 'tr', frame: {L: 2640, R: 3411, T: 195, B: 941}, zero: true,
  x: xPb, y: {min: -0.09, max: 0.12, major: 0.05, minor: 0.01, labels: yTickCovPbPb},
  datasets: [
    series(nchPbPb, cvPbPb_05_2, 'co', 13.5, BLK, {box: true, sysCol: GRAY, hw: 16, minH: 7, xl: 16, lw: 1.8, err: cvPbPbErr_05_2}),
    series(nchPbPb, cvPbPb_05_5, 'cf', 13.5, BLK, {box: true, sysCol: GRAY, hw: 16, minH: 7, xl: 16, lw: 1.8, err: cvPbPbErr_05_5}),
    series(nchPbPbR, cvPbPb_1_2, 'so', 15, RED, {box: true, sysCol: PINK, hw: 16, minH: 7, xl: 16, lw: 1.8, err: cvPbPbErr_1_2}),
    series(nchPbPbR, cvPbPb_1_5, 'sf', 15, RED, {box: true, sysCol: PINK, hw: 16, minH: 7, xl: 16, lw: 2.4, err: cvPbPbErr_1_5})
  ],
  ytitle: {x: 2514, y: 195, parts: [T_('cov('), I_('v'), SB('2'), SP('2', {stack: 1}), T_(',['), I_('p'), SB('T', {dy: 0.3}), T_(']) [GeV]')]},
  exp: {x: 2640, y: 186, parts: [T_('\u00d710'), SP('\u22123', {dy: -0.4})]},
  texts: [{x: 2951, y: 255, parts: line1()}, {x: 2949, y: 303.5, parts: linePb()}],
  legend: {line: [2916, 2981], mx: 2948, tx: 2995, rows: [
    {y: 720, m: 'co', s: 14, col: BLK, parts: legParts(legPbPb[0])},
    {y: 767, m: 'cf', s: 13, col: BLK, parts: legParts(legPbPb[1])},
    {y: 814, m: 'so', s: 14, col: RED, parts: legParts(legPbPb[2])},
    {y: 861, m: 'sf', s: 14, col: RED, parts: legParts(legPbPb[3])}]}
});

// ---- Bottom-left: c_k p+Pb ----
panel({
  id: 'bl', frame: {L: 460, R: 1271, T: 1066, B: 1811},
  x: xP, y: {log: true, min: 2e-4, max: 1e-2, labels: yExpCkPPb},
  datasets: [
    series(nchPPb, ckPPb_03_2, 'co', 16, BLK, {sys: ckPPbSys_03_2, rel: true, sysCol: GRAY, hw: 16, minH: 5}),
    series(nchPPb, ckPPb_03_5, 'so', 16, BLUE, {sys: ckPPbSys_03_5, rel: true, sysCol: LBLUE, hw: 16, minH: 5}),
    series(nchPPb, ckPPb_05_2, 'st', 25, RED, {sys: ckPPbSys_05_2, rel: true, sysCol: PINK, hw: 16, minH: 5})
  ],
  ytitle: {x: 347, y: 1064, parts: [I_('c'), SB('k', {i: 1}), T_(' [GeV'), SP('2'), T_(']')]},
  texts: [{x: 793, y: 1133.5, parts: line1()}, {x: 791, y: 1180, parts: lineP()}],
  legend: {mx: 515.6, tx: 541, rows: [
    {y: 1664, m: 'co', s: 15, col: BLK, parts: legParts(legPPb[0])},
    {y: 1714, m: 'so', s: 15, col: BLUE, parts: legParts(legPPb[1])},
    {y: 1765, m: 'st', s: 23, col: RED, parts: legParts(legPPb[2])}]}
});

// ---- Bottom-middle: Var_dyn p+Pb ----
panel({
  id: 'bm', frame: {L: 1570, R: 2354, T: 1067, B: 1807},
  x: xP, y: {min: 0, max: 35, major: 10, minor: 2, labels: yTickVarPPb},
  datasets: [
    series(nchPPb, vdPPb_03_2, 'co', 15, BLK, {sys: vdPPbSys_03_2, sysCol: GRAY, hw: 10, err: vdPPbErr_03_2, lw: 2.2}),
    series(nchPPb, vdPPb_03_5, 'so', 15, BLUE, {sys: vdPPbSys_03_5, sysCol: LBLUE, hw: 10, err: vdPPbErr_03_5, lw: 2.2}),
    series(nchPPb, vdPPb_05_2, 'st', 23, RED, {sys: vdPPbSys_05_2, sysCol: PINK, hw: 10, err: vdPPbErr_05_2, lw: 2.2})
  ],
  ytitle: {x: 1447, y: 1066, parts: [T_('Var('), I_('v'), SB('2'), T_('{2}'), SP('2'), T_(')'), SB('dyn', {dy: 0.35}), T_(' \u00d7 10'), SP('6')]},
  texts: [{x: 1886, y: 1132, parts: line1()}, {x: 1886, y: 1177, parts: lineP()}],
  legend: {mx: 2006, tx: 2029, rows: [
    {y: 1659, m: 'co', s: 14, col: BLK, parts: legParts(legPPb[0])},
    {y: 1708, m: 'so', s: 14, col: BLUE, parts: legParts(legPPb[1])},
    {y: 1757, m: 'st', s: 22, col: RED, parts: legParts(legPPb[2])}]}
});

// ---- Bottom-right: cov p+Pb ----
panel({
  id: 'br', frame: {L: 2640, R: 3410, T: 1067, B: 1794}, zero: true,
  x: xP, y: {min: -30, max: 7, major: 10, minor: 2, labels: yTickCovPPb},
  datasets: [
    series(nchPPb, cvPPb_03_2, 'co', 14.5, BLK, {sys: cvPPbSys_03_2, sysCol: GRAY, hw: 9, err: cvPPbErr_03_2, lw: 2.2}),
    series(nchPPb, cvPPb_03_5, 'so', 15, BLUE, {sys: cvPPbSys_03_5, sysCol: LBLUE, hw: 9, err: cvPPbErr_03_5, lw: 2.2}),
    series(nchPPb, cvPPb_05_2, 'st', 23, RED, {sys: cvPPbSys_05_2, sysCol: PINK, hw: 9, err: cvPPbErr_05_2, lw: 2.2})
  ],
  ytitle: {x: 2527, y: 1066, parts: [T_('cov('), I_('v'), SB('2'), T_('{2}'), SP('2'), T_(', ['), I_('p'), SB('T', {dy: 0.3}), T_(']) \u00d7 10'), SP('6'), T_(' [GeV]')]},
  texts: [{x: 2951, y: 1135, parts: line1()}, {x: 2949, y: 1180, parts: lineP()}],
  legend: {mx: 3069, tx: 3091, rows: [
    {y: 1635.5, m: 'co', s: 14, col: BLK, parts: legParts(legPPb[0])},
    {y: 1684.7, m: 'so', s: 14, col: BLUE, parts: legParts(legPPb[1])},
    {y: 1734, m: 'st', s: 22, col: RED, parts: legParts(legPPb[2])}]}
});
</script>
</body></html>
